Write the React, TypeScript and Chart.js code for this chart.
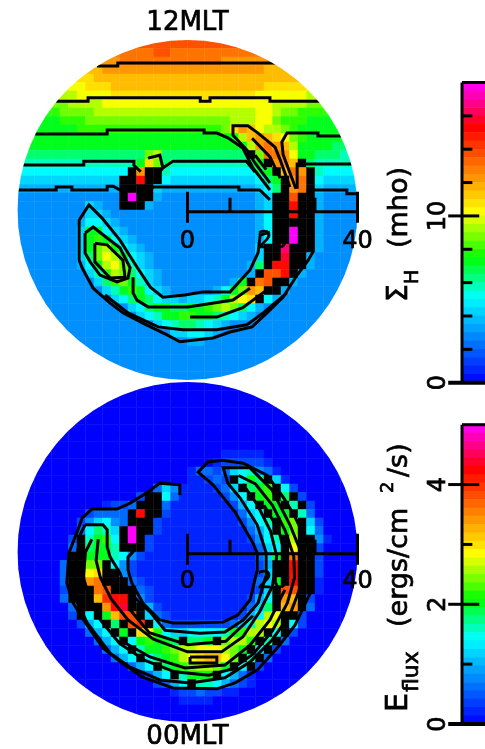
import React, { useEffect, useRef } from "react";
import { Chart, registerables } from "chart.js";
Chart.register(...registerables);

// Colour level codes: a (0) ... z (full scale); # = saturated by dense black contours
const HALL_ROWS = [
"tttttttttt tttttttttt tttttttttt tttttttttt",
"ssssssssss ssssssttss ssssssssss ssssssssss",
"rrrrrrrrrr rrssssssss ssssrrrrrr rrrrrrrrrr",
"qqqqqqqqqq rrrrrrrrrr rrrrrrrrrq qqqqqqqqqq",
"pppppppppq qqqqqqqqqq qqqqqqqqqq qqqqqqpppp",
"oooooooopp pqqqqqqqqq qqqqqqqqqp ppppoooooo",
"nnnnnnnooo oppppppppp ppppppppoo oooonnnnnn",
"mmmmmmnnnn oooooooooo oooooooooo nnnnmmmmmm",
"lllllmmmmn nnnnnnnnnn nnnnnnnnoo nmmlllllll",
"kkkkklllmm mmmmmmmmmm mmmmmnnnoo mlllkkkkkk",
"kkkkkkklll llllllllll llllmprqon nmlkkkkkkk",
"kkkkkkkkkk kkkkkkkkkk kkkkkknqrq pomlkkkkkk",
"kkkkkkkkkk kkkkkkkkkk kkkkkkknrs rqnkkkkjjj",
"jjjjjjjjjj jjjjjmnjjj jjjjjjj#ms srokkjjjii",
"iiiiiiiiii iiiikpmjii iiiiiiijk# rrq#jiiiii",
"hhhhhhhhhh hhh#r##ihh hhhhhhhhjk #qsr#ihhhh",
"gggggggggg gg##v##hgg gggggggghj k#rs#hgggg",
"ffffffffff ff####gfff ffffffffgh j#rs#gffff",
"eeeeeeeeee ee#z##feee eeeeeeeefg ##t##feeee",
"eeeeeeeegf ee###feeee eeeeeeeefg ##v##feeee",
"eeeeeeeegg feeeeeeeee eeeeeeeefh ##v##feeee",
"eeeeeeefhh gfeeeeeeee eeeeeeeefh #####feeee",
"eeeeeeegkk hgfeeeeeee eeeeeeeefh ##z##feeee",
"eeeeeeegkl khgfeeeeee eeeeeeeefh ##z##feeee",
"eeeeeeegkm nkhgfeeeee eeeeeeeeg# #x###feeee",
"eeeeeeegjm onkhgfeeee eeeeeeeeg# #w##feeeee",
"eeeeeeefhk nomigfeeee eeeeeeefj# vv##feeeee",
"eeeeeeeegi lnmjhgfeee eeeeeeef#t tv#feeeeee",
"eeeeeeeeeg jlmkigfeee eeeeefk#st ##feeeeeee",
"eeeeeeeeee giklkhgfee eeefhkmrq# #feeeeeeee",
"eeeeeeeeee eghjkjhggf gghiknop#h feeeeeeeee",
"eeeeeeeeee eeeghjkkjj kklmnmjhfe eeeeeeeeee",
"eeeeeeeeee eeeeghikkl lkkjihgfee eeeeeeeeee",
"eeeeeeeeee eeeeeeghij jihgfeeeee eeeeeeeeee",
"eeeeeeeeee eeeeeeeegg hhgfeeeeee eeeeeeeeee",
"eeeeeeeeee eeeeeeeeee ffeeeeeeee eeeeeeeeee",
"eeeeeeeeee eeeeeeeeee eeeeeeeeee eeeeeeeeee",
"eeeeeeeeee eeeeeeeeee eeeeeeeeee eeeeeeeeee",
"eeeeeeeeee eeeeeeeeee eeeeeeeeee eeeeeeeeee",
"eeeeeeeeee eeeeeeeeee eeeeeeeeee eeeeeeeeee",
];

const FLUX_ROWS = [
"aaaaaaaaaa aaaaaaaaaa aaaaaaaaaa aaaaaaaaaa",
"aaaaaaaaaa aaaaaaaaaa aaaaaaaaaa aaaaaaaaaa",
"aaaaaaaaaa aaaaaaaaaa aaaaaaaaaa aaaaaaaaaa",
"aaaaaaaaaa aaaaaaaaaa aaaaaaaaaa aaaaaaaaaa",
"aaaaaaaaaa aaaaaaaaaa aaaaaaaaaa aaaaaaaaaa",
"aaaaaaaaaa aaaaaaaaaa aaaaaaaaaa aaaaaaaaaa",
"aaaaaaaaaa aaaaaaaaaa aaaaaaaaaa aaaaaaaaaa",
"aaaaaaaaaa aaaaaaaaaa aaaaaaaaaa aaaaaaaaaa",
"aaaaaaaaaa aaaaaaaaaa aaaabbbbba aaaaaaaaaa",
"aaaaaaaaaa aaaaaaaaaa aaabcccccb aaaaaaaaaa",
"aaaaaaaaaa aaaaaaaaaa bddcdghied baaaaaaaaa",
"aaaaaaaaaa aaaaaaaaaa bbcdc#hkj# gbaaaaaaaa",
"aaaaaaaaaa aaaaaadgeb bbbcdg#jkl #hcaaaaaaa",
"aaaaaaaaaa aaaac##hdb bbbbceh#kl #j#caaaaaa",
"aaaaaaaaaa bccd###dbb bbbbbcfh#k k#i#caaaaa",
"aaaaaaaacd ddd#v##cbb bbbbbbdgh# kk#idaaaaa",
"aaaaaaaceg hed###cbbb bbbbbbcehi #lm#gcaaaa",
"aaaaaaadhj ig#z##cbbb bbbbbbbdfh #km#hdaaaa",
"aaaaaac#ik lh#z#cbbbb bbbbbbbceh i#n##ebaaa",
"aaaaaad#jk ki###cbbbb bbbbbbbbdg h#o##caaaa",
"aaaaaa##kk kihecbbbbb bbbbbbbbdg k#s##caaaa",
"aaaaad##mm #hecbbbbbb bbbbbbbbcf ##v##caaaa",
"aaaaad##op ##ecbbbbbb bbbbbbbbcg ##v##caaaa",
"aaaaad##rs ###dcbbbbb bbbbbbbbdg k#v##baaaa",
"aaaaac###s t###dcbbbb bbbbbbbbcg #tt##baaaa",
"aaaaad###q uvv#ecbbbb bbbbbbbcfh #rq#caaaaa",
"aaaaaad### rvw##fcbbb bbbbbbbdgj #qr#daaaaa",
"aaaaaac#h# kqtt#gdcbb bbbbbbcfhn o##caaaaaa",
"aaaaaaacfh #j#tu#hdcc cccccdgino n#hcaaaaaa",
"aaaaaaaadf h#k#polhgg hhhhiklnn# h#caaaaaaa",
"aaaaaaaaad fh#hklkkj# jjk#mnnl#i #daaaaaaaa",
"aaaaaaaaaa dfh#ikklmn nooonmk#h# caaaaaaaaa",
"aaaaaaaaaa adfh#hjkln opqqom#i#d aaaaaaaaaa",
"aaaaaaaaaa aaadfh#jkl mnnmk#h#ca aaaaaaaaaa",
"aaaaaaaaaa aaaaadfh#i kkk#hfdbaa aaaaaaaaaa",
"aaaaaaaaaa aaaaaacdfh #iihfdcbaa aaaaaaaaaa",
"aaaaaaaaaa aaaaaaaabc cdccbbaaaa aaaaaaaaaa",
"aaaaaaaaaa aaaaaaaaab bbbaaaaaaa aaaaaaaaaa",
"aaaaaaaaaa aaaaaaaaaa aaaaaaaaaa aaaaaaaaaa",
"aaaaaaaaaa aaaaaaaaaa aaaaaaaaaa aaaaaaaaaa",
];

type P = [number, number];

const HALL_CONTOURS: P[][] = [
  [[-21.3,33.9],[-16.4,33.9],[-16.4,34.6],[21.8,34.6]],
  [[-30.9,25.6],[-23.4,25.6],[-23.4,26.4],[3,26.4],[3,25.6],[5.3,25.6],[5.3,26.4],[19.4,26.4],[19.4,25.6],[31.4,25.6]],
  [[-36.1,17.9],[-18.9,17.9],[-18.9,18.8],[3.9,18.8],[3.9,18.1],[6.9,18.1],[9.5,17],[13,14.6],[15.4,9.9],[19.4,4.7]],
  [[25.5,5],[24,9],[22.5,13],[22.2,16],[23.4,18.1],[30.7,18.1],[30.7,17.4],[36.6,17.4]],
  [[-39.2,10.6],[-24.4,10.6],[-24.4,11.5],[-12.6,11.5],[-12.6,10.5],[-11,9]],
  [[-5.8,9.9],[-3.4,11.5],[13.8,11.5],[15.9,8.9]],
  [[25.8,5],[25.8,10.8],[38.9,10.8]],
  [[-39.9,4.7],[-30.9,4.7],[-30.9,5.4],[-27.2,5.4],[-27.2,4.7],[-18.9,4.7],[-18.9,5.6],[-17.5,5.6],[-15.5,4.5]],
  [[-10,3],[-8.1,5.4],[12.1,5.4],[12.1,4.7],[17,4.7],[19.4,2.4]],
  [[28.4,0.8],[28.4,4.7],[37.5,4.7],[37.5,3.8],[40,3.8]],
  [[29.5,-2.4],[29.5,-9.9],[28.4,-11.8],[25.8,-15.3],[22.5,-20.5],[18.7,-24.2],[15.2,-27.5],[10,-28.7],[6,-30.1],[-1.8,-31],[-4.8,-29.4],[-10.5,-26.6],[-15.2,-24.2],[-18.2,-21.9],[-22.2,-18.4],[-24.8,-13.6],[-25.5,-11.8],[-25.5,-2.4],[-23.2,1.2],[-20.1,-1.9],[-15.9,-7.1],[-11.9,-13.4],[-8.8,-18.1],[-5.8,-20.5],[-0.6,-20],[3.4,-19.3],[10,-19.3],[14.7,-14.1],[16.6,-10.1],[17.1,-5.9],[19.4,-5.2]],
  [[-24.1,-5.4],[-22.2,-4],[-18.9,-6.6],[-15.9,-8.9],[-13.5,-13.6],[-14,-16],[-16.6,-16.9],[-20.6,-15.3],[-22.9,-12.2],[-24.1,-10.1],[-24.1,-5.4]],
  [[-21.8,-7.8],[-18.9,-8.2],[-15.2,-11.8],[-14.7,-15.8],[-18.2,-16],[-21.8,-12.2],[-21.8,-7.8]],
  [[-12.8,-15.8],[-12.8,-19.5],[-11.9,-21.2],[-9.3,-22.8],[0.1,-22.8],[10.7,-21.2],[14.7,-18.4]],
  [[-19.4,-20],[-14,-24.2],[-6.9,-27.5],[-1.1,-28.2],[6.9,-28.2],[14,-27],[17.8,-24.2],[23.4,-19.5]],
  [[0.6,-25.2],[6.9,-25.2],[13,-23],[18.7,-18.8]],
  [[19.4,6.4],[15.9,11],[14,14.1],[10.7,17.6],[10.7,19.8],[14.2,19.8],[16.6,18.1],[20.6,14.8],[21.8,11.8],[24.1,5.4]],
  [[15.2,16.9],[19.4,12.5],[21.8,7.5]],
  [[15.9,12.9],[18.5,9.5]],
  [[-9.3,12.2],[-6.5,12.9],[-5.8,9.9],[-8,7]],
];

const FLUX_CONTOURS: P[][] = [
  [[-1.8,13.4],[-1.8,15.8],[-6.5,16.2],[-9.3,14.1],[-13.5,11.5],[-16.6,10.1],[-22.5,10.1],[-24.8,8],[-25.8,5.2],[-27.2,1.6],[-27.9,-0.2],[-28.4,-7.3],[-26.9,-12],[-24.8,-15.5],[-19.9,-22.6],[-15.4,-26.1],[-10.7,-29.4],[-3.4,-32],[6.9,-32.2],[11.2,-30.8],[16.4,-27.8],[21.1,-22.6],[25.3,-17.2],[28.4,-10.6],[29.3,-8.9],[29.3,-1.2],[28.4,1.2],[27.6,3.5],[24.8,9.2],[22.5,12.9],[18.7,18.1],[13.1,20.9],[8.1,21.6],[4.8,21.2],[2.5,18.8],[6,15.8],[11.2,9.4],[15.4,2.1],[16.4,-0.2],[16.4,-4.2],[15.4,-8.5],[14.7,-11.3],[11.9,-14.8],[8.4,-16.5],[1.3,-16.7],[-3.4,-16.7],[-6.5,-16],[-10.5,-12],[-13.1,-7.3],[-14,-4.2],[-14,-1.2],[-12.4,0.5]],
  [[-24.1,6.4],[-19.9,6.4],[-18.9,5.2],[-18.9,1.2],[-18.2,-1.2],[-15.9,-4.9],[-14.7,-8.2],[-11.2,-12],[-8.8,-14.1],[-5.3,-18.4],[2.9,-19.1],[8.8,-18.8],[13.1,-16],[16.6,-12],[18.5,-5.4],[18.5,-0.2],[16.4,6.4],[12.4,12.7],[9.5,16.2],[8.4,19.8],[14.7,19.8],[19.9,14.6],[24.1,6.4],[26.5,0.5],[27.2,-6.6],[24.1,-14.8],[19.9,-20.7],[14.7,-25.9],[8.8,-29.6],[0.6,-30.8],[-6.5,-30.1],[-13.5,-27.1],[-18.2,-23.8],[-23.6,-16.7],[-26.5,-10.6],[-26.5,-4.9],[-25.8,0.5],[-25.3,4],[-24.1,6.4]],
  [[-15.9,-20.7],[-8.8,-24.7],[-0.6,-27.3],[8.8,-26.6],[14.7,-21.9],[19.4,-16],[22.9,-8.9]],
  [[0.6,-24.7],[6.9,-24.7],[6.9,-26.1],[0.6,-26.1],[0.6,-24.7]],
  [[-13.5,-13.6],[-9,-19],[0,-21.8],[9,-21],[15.4,-15]],
  [[-22.5,3],[-24,0],[-24.5,-6],[-23,-11],[-20.5,-16],[-16,-21.5],[-10,-25.5],[-3,-28.2],[5,-29],[10.5,-27.5],[15.5,-24],[20,-18.5],[23.5,-12],[25.2,-6],[25,-1],[23,5],[20,11],[16,16],[12,18]],
  [[-21,3],[-21.5,-2],[-20.5,-6],[-18,-11],[-14,-16],[-8,-20.5],[0,-23.5],[8,-23.5],[13,-20],[17,-14],[20,-8],[21,-1],[19.5,5],[16.5,11],[13,16]],
  [[22.5,-6],[23,-1],[21.5,5],[18,11]],
];

const AXIS_TICKS_MAJOR = [0, 40];
const AXIS_TICKS_MINOR = [10, 30];
const AXIS_LABELS = [0, 20, 40];

const HALL_BAR_LEVELS = [0,0.5,1,1.5,2,2.5,3,3.5,4,4.5,5,5.5,6,6.5,7,7.5,8,8.5,9,9.5,10,10.5,11,11.5,12,12.5,13,13.5,14,14.5,15,15.5,16,16.5,17,17.5];
const HALL_BAR_MAX = 18;
const HALL_TICKS = [0,2,4,6,8,10,12,14,16];
const HALL_TICK_LABELS = [0,10];
const FLUX_BAR_MAX = 5;
const FLUX_BAR_LEVELS = HALL_BAR_LEVELS.map((v) => (v * FLUX_BAR_MAX) / HALL_BAR_MAX);
const FLUX_TICKS = [0,1,2,3,4];
const FLUX_TICK_LABELS = [0,2,4];

const STOPS: [number, number, number, number][] = [
  [0, 0, 0, 255],
  [0.285, 0, 255, 255],
  [0.415, 0, 255, 0],
  [0.565, 255, 255, 0],
  [0.85, 255, 0, 0],
  [1, 255, 0, 255],
];
function ramp(f: number): string {
  for (let i = 1; i < STOPS.length; i++) {
    if (f <= STOPS[i][0]) {
      const a = STOPS[i - 1], b = STOPS[i];
      const t = (f - a[0]) / (b[0] - a[0]);
      const m = (k: number) => Math.round(a[k] + (b[k] - a[k]) * t);
      return `rgb(${m(1)},${m(2)},${m(3)})`;
    }
  }
  return "rgb(255,0,255)";
}
function codeColor(c: string): string {
  if (c === "#") return "#000";
  return ramp((c.charCodeAt(0) - 97) / 25);
}

const FONT = '"DejaVu Sans"';

function heavyText(ctx: CanvasRenderingContext2D, t: string, x: number, y: number) {
  ctx.fillText(t, x, y);
  ctx.lineWidth = 0.7;
  ctx.strokeStyle = "#000";
  ctx.strokeText(t, x, y);
}

function panelConfig(rows: string[], contours: P[][], yMin: number, yMax: number, title: string, titleY: number, labelY: number) {
  const pts: { x: number; y: number }[] = [];
  const cols: string[] = [];
  rows.forEach((r, j) => {
    const s = r.replace(/ /g, "");
    for (let i = 0; i < s.length; i++) {
      pts.push({ x: -39 + 2 * i, y: 39 - 2 * j });
      cols.push(codeColor(s[i]));
    }
  });
  const line = (data: { x: number; y: number }[], disc: boolean, width = 3) => ({
    type: "scatter", showLine: true, data, borderColor: "#000", borderWidth: width,
    pointRadius: 0, borderJoinStyle: "miter", tension: 0, order: 1, disc, clip: false,
  });
  const axisY = -0.4;
  const datasets: any[] = [
    { type: "scatter", data: pts, pointStyle: "rect", pointRadius: 6.3, pointBorderWidth: 0, pointBackgroundColor: cols, order: 3, disc: true },
    ...contours.map((c) => line(c.map(([x, y]) => ({ x, y })), true)),
    line([{ x: 0, y: axisY }, { x: 40, y: axisY }], false),
    ...AXIS_TICKS_MAJOR.map((x) => line([{ x, y: axisY + 4.7 }, { x, y: axisY - 2.6 }], false)),
    ...AXIS_TICKS_MINOR.map((x) => line([{ x, y: axisY + 3.3 }, { x, y: axisY }], false)),
  ];
  const plugin = {
    id: "discAndText",
    beforeDatasetDraw(chart: any, args: any) {
      const ds = chart.data.datasets[args.index];
      if (!ds.disc) return;
      const { x, y } = chart.scales;
      const ctx = chart.ctx;
      ctx.save();
      ctx.beginPath();
      ctx.arc(x.getPixelForValue(0), y.getPixelForValue(0), 170, 0, Math.PI * 2);
      ctx.clip();
    },
    afterDatasetDraw(chart: any, args: any) {
      if (chart.data.datasets[args.index].disc) chart.ctx.restore();
    },
    afterDraw(chart: any) {
      const { x, y } = chart.scales;
      const ctx = chart.ctx;
      ctx.save();
      ctx.fillStyle = "#000";
      ctx.textAlign = "center";
      ctx.textBaseline = "alphabetic";
      ctx.font = `24px ${FONT}`;
      AXIS_LABELS.forEach((v) => heavyText(ctx, String(v), x.getPixelForValue(v), y.getPixelForValue(labelY)));
      ctx.font = `26px ${FONT}`;
      heavyText(ctx, title, x.getPixelForValue(0), y.getPixelForValue(titleY));
      ctx.restore();
    },
  };
  return {
    type: "scatter",
    data: { datasets },
    plugins: [plugin],
    options: {
      responsive: false, animation: false, devicePixelRatio: 1,
      layout: { padding: 0, autoPadding: false },
      plugins: { legend: { display: false }, tooltip: { enabled: false }, title: { display: false } },
      scales: {
        x: { type: "linear", min: -44.118, max: 43.882, display: false },
        y: { type: "linear", min: yMin, max: yMax, display: false },
      },
    },
  } as any;
}

type TextRun = { text: string; x: number; y: number; size: number };

function barConfig(levels: number[], max: number, ticks: number[], labelled: number[], runs: TextRun[], padTop: number, padBottom: number, canvasH: number) {
  const step = levels[1] - levels[0];
  const bandPx = (canvasH - padTop - padBottom) / levels.length + 0.6;
  const tickLine = (x0: number, x1: number, y0: number, y1: number, w = 3) => ({
    type: "scatter", showLine: true, clip: false, order: 1,
    data: [{ x: x0, y: y0 }, { x: x1, y: y1 }], borderColor: "#000", borderWidth: w, pointRadius: 0,
  });
  const datasets: any[] = [
    ...levels.map((v) => ({
      type: "scatter", showLine: true, order: 3, pointRadius: 0,
      data: [{ x: 0, y: v + step / 2 }, { x: 1, y: v + step / 2 }],
      borderColor: ramp((v + step / 2) / max), borderWidth: bandPx,
    })),
    ...ticks.map((t) => labelled.includes(t) ? tickLine(-0.6, t === 0 ? 1 : 0.75, t, t, t === 0 ? 4 : 3) : tickLine(0, 0.45, t, t)),
    tickLine(0, 0, 0, max),
    tickLine(0, 1, max, max),
  ];
  const plugin = {
    id: "barText",
    afterDraw(chart: any) {
      const ctx = chart.ctx;
      const yS = chart.scales.y;
      ctx.save();
      ctx.fillStyle = "#000";
      ctx.textBaseline = "alphabetic";
      const draw = (t: string, x: number, y: number, size: number, align: CanvasTextAlign) => {
        ctx.save();
        ctx.translate(x, y);
        ctx.rotate(-Math.PI / 2);
        ctx.textAlign = align;
        ctx.font = `${size}px ${FONT}`;
        heavyText(ctx, t, 0, 0);
        ctx.restore();
      };
      labelled.forEach((v) => draw(String(v), 70, yS.getPixelForValue(v), 24, "center"));
      runs.forEach((r) => draw(r.text, r.x, r.y, r.size, "left"));
      ctx.restore();
    },
  };
  return {
    type: "scatter",
    data: { datasets },
    plugins: [plugin],
    options: {
      responsive: false, animation: false, devicePixelRatio: 1,
      layout: { padding: { left: 87, right: 0, top: padTop, bottom: padBottom }, autoPadding: false },
      plugins: { legend: { display: false }, tooltip: { enabled: false }, title: { display: false } },
      scales: {
        x: { type: "linear", min: 0, max: 1, display: false },
        y: { type: "linear", min: 0, max, display: false },
      },
    },
  } as any;
}

const HALL_RUNS: TextRun[] = [
  { text: "(mho)", x: 32, y: 186, size: 27 },
  { text: "Σ", x: 32, y: 240, size: 28 },
  { text: "H", x: 43, y: 222, size: 19 },
];
const FLUX_RUNS: TextRun[] = [
  { text: "(ergs/cm", x: 32, y: 222, size: 27 },
  { text: "2", x: 18, y: 88, size: 18 },
  { text: "/s)", x: 32, y: 72, size: 27 },
  { text: "E", x: 32, y: 307, size: 30 },
  { text: "flux", x: 43, y: 287, size: 22 },
];

const canvasStyle = (left: number, top: number): React.CSSProperties => ({ position: "absolute", left, top, display: "block" });

export default function App() {
  const a = useRef<HTMLCanvasElement>(null);
  const b = useRef<HTMLCanvasElement>(null);
  const c = useRef<HTMLCanvasElement>(null);
  const d = useRef<HTMLCanvasElement>(null);
  useEffect(() => {
    const charts = [
      new Chart(a.current!, panelConfig(HALL_ROWS, HALL_CONTOURS, -43.294, 49.412, "12MLT", 42.35, -8.9)),
      new Chart(b.current!, panelConfig(FLUX_ROWS, FLUX_CONTOURS, -46.353, 44, "00MLT", -45.2, -8.5)),
      new Chart(c.current!, barConfig(HALL_BAR_LEVELS, HALL_BAR_MAX, HALL_TICKS, HALL_TICK_LABELS, HALL_RUNS, 20.5, 19.3, 340)),
      new Chart(d.current!, barConfig(FLUX_BAR_LEVELS, FLUX_BAR_MAX, FLUX_TICKS, FLUX_TICK_LABELS, FLUX_RUNS, 19.7, 25, 344)),
    ];
    return () => charts.forEach((ch) => ch.destroy());
  }, []);
  return (
    <div style={{ position: "fixed", left: 0, top: 0, width: 485, height: 749, overflow: "hidden", background: "#fff" }}>
      <canvas ref={a} width={374} height={394} style={canvasStyle(0, 0)} />
      <canvas ref={b} width={374} height={384} style={canvasStyle(0, 365)} />
      <canvas ref={c} width={110} height={340} style={canvasStyle(375, 62)} />
      <canvas ref={d} width={110} height={344} style={canvasStyle(375, 405)} />
    </div>
  );
}
